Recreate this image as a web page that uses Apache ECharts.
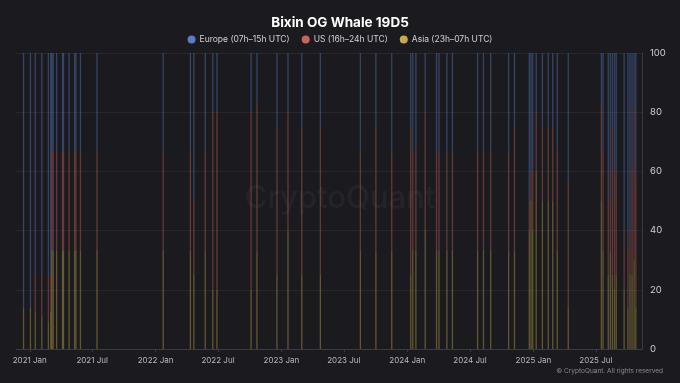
<!DOCTYPE html>
<html>
<head>
<meta charset="utf-8">
<script src="https://cdn.jsdelivr.net/npm/echarts@6/dist/echarts.min.js"></script>
<style>
html,body{margin:0;padding:0;background:#1b1b1f;}
#c{width:680px;height:383px;}
</style>
</head>
<body>
<div id="c"></div>
<script>
// Dates of active days
const dates = [
 '2020-12-14','2021-01-03','2021-01-17','2021-02-05','2021-02-24','2021-03-03','2021-03-06','2021-03-10',
 '2021-03-20','2021-04-06','2021-04-09','2021-04-25','2021-05-11','2021-05-15','2021-05-28','2021-07-15',
 '2022-01-23','2022-04-12','2022-04-22','2022-05-25','2022-06-16','2022-06-28','2022-10-05','2022-10-22',
 '2022-12-19','2023-01-20','2023-03-01','2023-04-24','2023-08-18','2023-10-02','2023-11-17','2024-01-11',
 '2024-01-17','2024-01-26','2024-02-22','2024-03-26','2024-04-02','2024-04-25','2024-05-11','2024-07-23',
 '2024-08-09','2024-08-30','2024-10-21','2024-11-07','2024-12-20','2024-12-25','2024-12-30','2025-01-09',
 '2025-01-27','2025-02-13','2025-02-26','2025-03-11','2025-04-12','2025-07-17','2025-07-22','2025-08-06',
 '2025-08-12','2025-08-18','2025-08-24','2025-08-29','2025-09-21','2025-10-02','2025-10-08','2025-10-14',
 '2025-10-20','2025-10-25'
];
// Share of activity (%) in Asia session (23h-07h UTC)
const asia = [
 14,14,12.5,11,9,12.5,33.3,33.3,
 33.3,33.3,33.3,33.3,33.3,33.3,33.3,33.3,
 33.3,33.3,25,33.3,20,20,20,33,
 25,40,25,25,33.3,33,33.3,25,
 33.3,33.3,40,33.3,33.3,33.3,33.3,33.3,
 33.3,33.3,33.3,33,40,50,40,60,
 50,50,50,33.3,14.3,50,33.3,25,
 33,25,20,25,20,14,25,25,
 30,14
];
// Share of activity (%) in US session (16h-24h UTC)
const us = [
 0,0,12.5,14,16,12.5,33.3,33.3,
 33.3,33.3,33.3,33.3,33.3,33.3,33.3,33.3,
 33.3,33.3,25,33.3,60,60,60,50,
 50,40,50,50,33.3,42,33.3,50,
 33.3,33.3,40,33.3,33.3,33.3,33.3,33.3,
 33.3,33.3,33.3,42,10,10,20,20,
 25,25,25,33.3,42.8,33,33.3,35,
 17,50,40,35,20,20,15,37,
 53,44
];
// Share of activity (%) in Europe session (07h-15h UTC)
const europe = [
 86,86,75,75,75,75,33.4,33.4,
 33.4,33.4,33.4,33.4,33.4,33.4,33.4,33.4,
 33.4,33.4,50,33.4,20,20,20,17,
 25,20,25,25,33.4,25,33.4,25,
 33.4,33.4,20,33.4,33.4,33.4,33.4,33.4,
 33.4,33.4,33.4,25,50,40,40,20,
 25,25,25,33.4,42.9,17,33.4,40,
 50,25,40,40,60,66,60,38,
 17,42
];
const seriesNames = ['Europe (07h–15h UTC)','US (16h–24h UTC)','Asia (23h–07h UTC)'];
const yTicks = [0,20,40,60,80,100];

const colors = {eu:'#5b7bc6', us:'#c9635b', asia:'#c6aa4a'};
const pair = arr => dates.map((d,i)=>[d, arr[i]]);
const chart = echarts.init(document.getElementById('c'), null, {renderer:'canvas'});
const barStyle = c => ({color:c, opacity:0.42});
const font = 'Inter, "Noto Sans", sans-serif';
const monthsShort = ['Jan','Feb','Mar','Apr','May','Jun','Jul','Aug','Sep','Oct','Nov','Dec'];
const DAY = 86400000;

chart.setOption({
  backgroundColor:'#1b1b1f',
  animation:false,
  textStyle:{fontFamily:font},
  title:{text:'Bixin OG Whale 19D5', left:'center', top:11,
    textStyle:{color:'#ffffff', fontSize:13.5, fontWeight:'bold', fontFamily:font}},
  legend:{top:30, left:'center', itemWidth:8, itemHeight:8, itemGap:12, icon:'circle',
    data:[
      {name:seriesNames[0], itemStyle:{color:colors.eu, opacity:1}},
      {name:seriesNames[1], itemStyle:{color:colors.us, opacity:1}},
      {name:seriesNames[2], itemStyle:{color:colors.asia, opacity:1}}
    ],
    textStyle:{color:'#d0d0d4', fontSize:8.5, fontFamily:font, padding:[0,0,0,-1]}},
  grid:{left:16, right:38, top:53, bottom:34},
  xAxis:{type:'time', min:'2020-11-24', max:'2025-11-10',
    minInterval:180*DAY, maxInterval:185*DAY,
    axisLine:{lineStyle:{color:'#3a3a40'}},
    axisTick:{show:true, length:3, lineStyle:{color:'#3a3a40'}},
    splitLine:{show:false},
    axisLabel:{color:'#b8b8bc', fontSize:8, fontFamily:font, hideOverlap:false,
      formatter: v => { const d = new Date(v); return d.getFullYear()+' '+monthsShort[d.getMonth()]; }}},
  yAxis:{type:'value', position:'right', min:yTicks[0], max:yTicks[yTicks.length-1], interval:20,
    axisLine:{show:true, lineStyle:{color:'#3a3a40'}},
    axisTick:{show:false},
    splitLine:{lineStyle:{color:'#26262b'}},
    axisLabel:{color:'#d0d0d4', fontSize:9.5, fontFamily:font, margin:8}},
  graphic:[
    {type:'text', left:'center', top:183, z:-1, style:{text:'CryptoQuant', fill:'rgba(255,255,255,0.045)', font:'500 31px '+font}},
    {type:'text', right:17, top:368, style:{text:'© CryptoQuant. All rights reserved', fill:'#8a8a90', font:'6.5px '+font}}
  ],
  series:[
    {name:seriesNames[2], type:'bar', stack:'s', barWidth:1.3, data:pair(asia), itemStyle:barStyle(colors.asia), color:colors.asia},
    {name:seriesNames[1], type:'bar', stack:'s', barWidth:1.3, data:pair(us), itemStyle:barStyle(colors.us), color:colors.us},
    {name:seriesNames[0], type:'bar', stack:'s', barWidth:1.3, data:pair(europe), itemStyle:barStyle(colors.eu), color:colors.eu}
  ]
});
</script>
</body>
</html>
